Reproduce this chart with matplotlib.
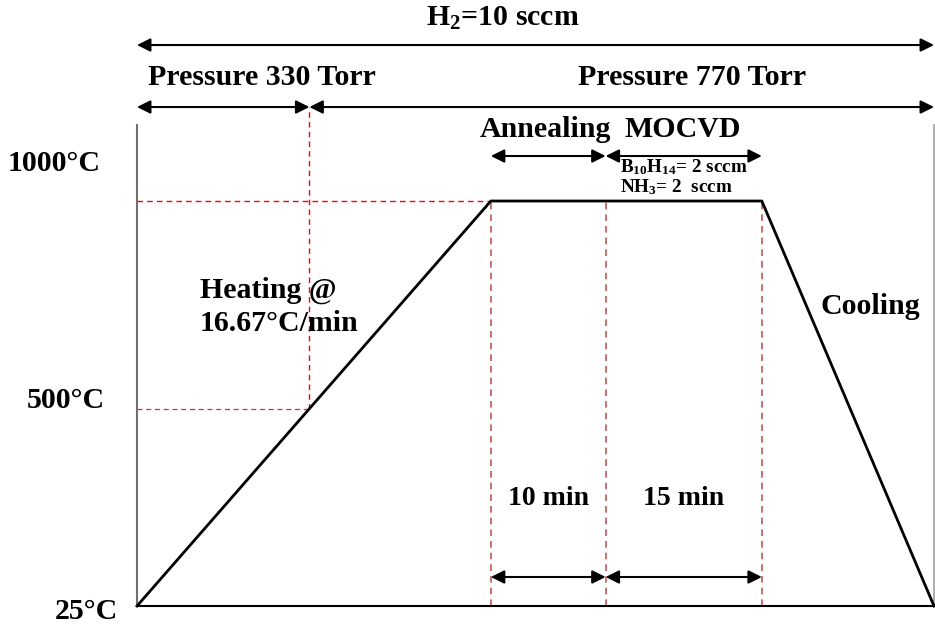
import matplotlib.pyplot as plt

plt.rcParams.update({
    'font.family': 'Liberation Serif',
    'font.weight': 'bold',
    'mathtext.fontset': 'custom',
    'mathtext.rm': 'Liberation Serif:bold',
    'mathtext.default': 'rm',
})

# schematic time axis (arbitrary units, stages not drawn to scale)
stage_time = [0, 44.4, 58.8, 78.4, 100]
stage_temp = [25, 1000, 1000, 1000, 25]
temp_labels = ['25°C', '500°C', '1000°C']
switch_temp = 500          # pressure switched 330 -> 770 Torr here
anneal_label = '10 min'
mocvd_label = '15 min'

t_start, t_ramp, t_anneal, t_mocvd, t_end = stage_time
t_switch = t_ramp * (switch_temp - stage_temp[0]) / (stage_temp[1] - stage_temp[0])

fig = plt.figure(figsize=(9.35, 6.24), dpi=100)
ax = fig.add_axes([137 / 935, 18 / 624, 797 / 935, 481 / 624])
ax.set_xlim(t_start, t_end)
ax.set_ylim(25, 1183)


def level(px):
    # vertical position given in pixels from the top -> temperature units
    return 25 + (606 - px) * 975 / 405


def across(px):
    # horizontal position in pixels -> time units
    return (px - 137) / 7.97


ax.spines['top'].set_visible(False)
ax.spines['left'].set_color('#707070')
ax.spines['left'].set_linewidth(1.5)
ax.spines['right'].set_color('#a0a0a0')
ax.spines['right'].set_linewidth(1.2)
ax.spines['bottom'].set_color('black')
ax.spines['bottom'].set_linewidth(1.5)
ax.set_xticks([])
ax.set_yticks([])

# temperature profile
ax.plot(stage_time, stage_temp, color='black', lw=2, clip_on=False, zorder=3)

# guide lines
dash = (0, (4, 3))
ax.plot([t_start, t_ramp], [1000, 1000], color='red', ls=dash, lw=1)
ax.plot([t_start, t_switch], [switch_temp, switch_temp], color='#d03030', ls=dash, lw=0.9)
ax.plot([t_switch, t_switch], [switch_temp, level(107)], color='red', ls=dash, lw=1, clip_on=False)
for t in [t_ramp, t_anneal, t_mocvd]:
    ax.plot([t, t], [25, 1000], color='#c05858', ls=dash, lw=1.2)


def span(x0, x1, y):
    ax.annotate('', xy=(x1, y), xytext=(x0, y),
                arrowprops=dict(arrowstyle='<|-|>', color='black', lw=1.5,
                                mutation_scale=20, shrinkA=0, shrinkB=0),
                annotation_clip=False)


span(t_start, t_end, level(45))
span(t_start, t_switch, level(107))
span(t_switch, t_end, level(107))
span(t_ramp, t_anneal, level(156))
span(t_anneal, t_mocvd, level(156))
span(t_ramp, t_anneal, level(577))
span(t_anneal, t_mocvd, level(577))

fs = 21.5
ax.text(across(503), level(18), 'H$_2$=10 sccm', fontsize=fs, ha='center', va='center')
ax.text(across(262), level(77), 'Pressure 330 Torr', fontsize=fs, ha='center', va='center')
ax.text(across(692), level(77), 'Pressure 770 Torr', fontsize=fs, ha='center', va='center')
ax.text(across(545), level(129), 'Annealing', fontsize=fs, ha='center', va='center')
ax.text(across(683), level(129), 'MOCVD', fontsize=fs, ha='center', va='center')
ax.text(across(620), level(167), 'B$_{10}$H$_{14}$= 2 sccm', fontsize=13.8, ha='left', va='center')
ax.text(across(620), level(187), 'NH$_3$= 2  sccm', fontsize=13.8, ha='left', va='center')
ax.text(across(200), level(290), 'Heating @', fontsize=fs, ha='left', va='center')
ax.text(across(200), level(323), '16.67°C/min', fontsize=fs, ha='left', va='center')
ax.text(across(820), level(306), 'Cooling', fontsize=fs, ha='left', va='center')
ax.text((t_ramp + t_anneal) / 2, level(498), anneal_label, fontsize=20, ha='center', va='center')
ax.text((t_anneal + t_mocvd) / 2, level(498), mocvd_label, fontsize=20, ha='center', va='center')

ytr = ax.get_yaxis_transform()
for lab, right, px in zip(temp_labels, [118, 105, 101], [612, 400, 163]):
    ax.text((right - 137) / 797, level(px), lab, fontsize=fs, ha='right', va='center', transform=ytr)

fig.savefig('out.png', dpi=100)
